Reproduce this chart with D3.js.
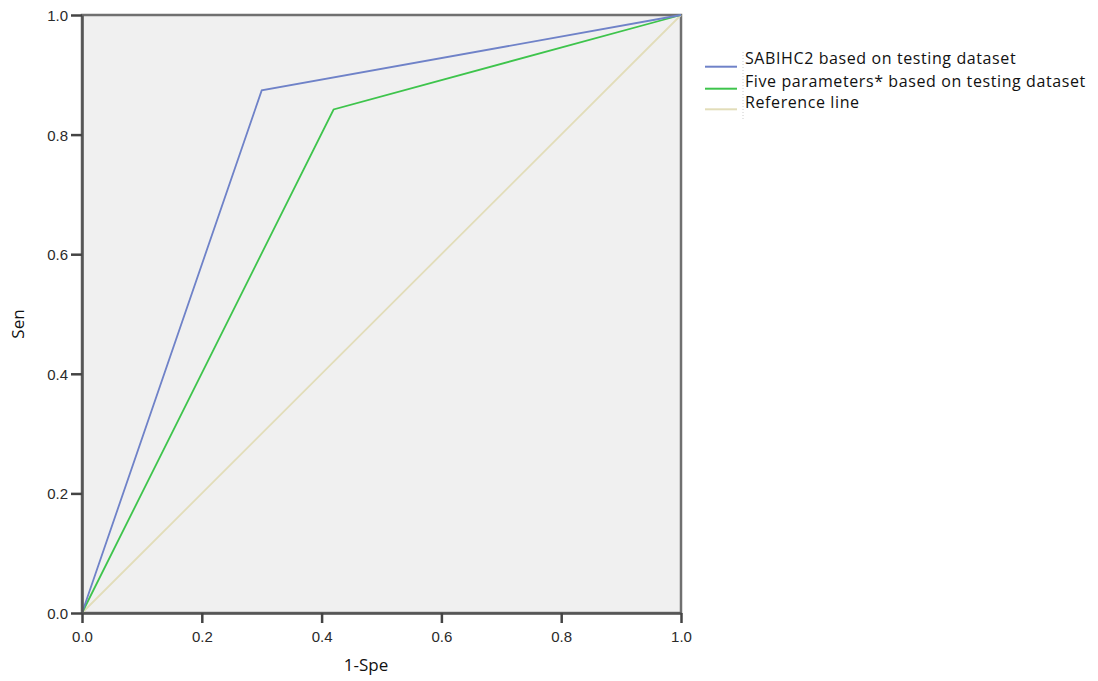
<!DOCTYPE html>
<html><head><meta charset="utf-8">
<script src="https://cdn.jsdelivr.net/npm/d3@7"></script>
<style>body{margin:0;background:#fff}svg{display:block}</style>
</head><body>
<svg id="c" width="1098" height="681"></svg>
<script>
const seriesNames = ["SABIHC2 based on testing dataset", "Five parameters* based on testing dataset", "Reference line"];
const sabihcX = [0, 0.300, 1];
const sabihcY = [0, 0.874, 1];
const fiveX = [0, 0.420, 1];
const fiveY = [0, 0.842, 1];
const refX = [0, 1];
const refY = [0, 1];
const tickValues = [0, 0.2, 0.4, 0.6, 0.8, 1.0];
const colors = ["#6f82c8", "#3ec44c", "#e2ddb9"];

const svg = d3.select("#c");
const L = 82, R = 681, T = 15, B = 613;
const x = d3.scaleLinear().domain([0, 1]).range([L, R]);
const y = d3.scaleLinear().domain([0, 1]).range([B, T]);

svg.append("rect").attr("x", L).attr("y", T).attr("width", R - L).attr("height", B - T)
  .attr("fill", "#f0f0f0").attr("stroke", "#707070").attr("stroke-width", 2.5);

const series = [[refX, refY], [fiveX, fiveY], [sabihcX, sabihcY]];
const cols = [colors[2], colors[1], colors[0]];
const line = d3.line().x(d => x(d[0])).y(d => y(d[1]));
series.forEach((s, i) => {
  const pts = s[0].map((v, j) => [v, s[1][j]]);
  svg.append("path").attr("d", line(pts)).attr("fill", "none")
    .attr("stroke", cols[i]).attr("stroke-width", 1.8);
});

const fmt = d3.format(".1f");
const xa = svg.append("g").attr("transform", `translate(0,${B})`)
  .call(d3.axisBottom(x).tickValues(tickValues).tickFormat(fmt).tickSize(10).tickSizeOuter(0));
const ya = svg.append("g").attr("transform", `translate(${L},0)`)
  .call(d3.axisLeft(y).tickValues(tickValues).tickFormat(fmt).tickSize(11).tickSizeOuter(0));
[xa, ya].forEach(a => {
  a.select(".domain").attr("stroke", "#555").attr("stroke-width", 2.5);
  a.selectAll(".tick line").attr("stroke", "#444").attr("stroke-width", 2.5);
  a.selectAll(".tick text").attr("font-family", "Liberation Sans, Arial, sans-serif")
    .attr("font-size", 15).attr("fill", "#2a2a2a");
});
xa.selectAll(".tick text").attr("y", 29).attr("dy", 0);
ya.selectAll(".tick text").attr("dy", "0.36em").attr("x", -14);

svg.append("text").attr("x", 366).attr("y", 671).attr("text-anchor", "middle")
  .attr("font-family", "Open Sans, sans-serif").attr("font-size", 17).attr("fill", "#111").text("1-Spe");
svg.append("text").attr("transform", `translate(24,324) rotate(-90)`).attr("text-anchor", "middle")
  .attr("font-family", "Open Sans, sans-serif").attr("font-size", 17).attr("fill", "#111").text("Sen");

// legend
const lg = svg.append("g");
svg.append("line").attr("x1", 743).attr("x2", 743).attr("y1", 52).attr("y2", 120)
  .attr("stroke", "#ccc").attr("stroke-width", 1).attr("stroke-dasharray", "1,2");
const lineYs = [66.7, 88.7, 109.3];
const textYs = [64, 87, 108];
seriesNames.forEach((n, i) => {
  lg.append("line").attr("x1", 705).attr("x2", 737).attr("y1", lineYs[i]).attr("y2", lineYs[i])
    .attr("stroke", colors[i]).attr("stroke-width", 2);
  lg.append("text").attr("x", 745).attr("y", textYs[i]).attr("font-family", "Open Sans, sans-serif")
    .attr("font-size", 16).attr("letter-spacing", "0.6px").attr("fill", "#111").text(n);
});
</script>
</body></html>
